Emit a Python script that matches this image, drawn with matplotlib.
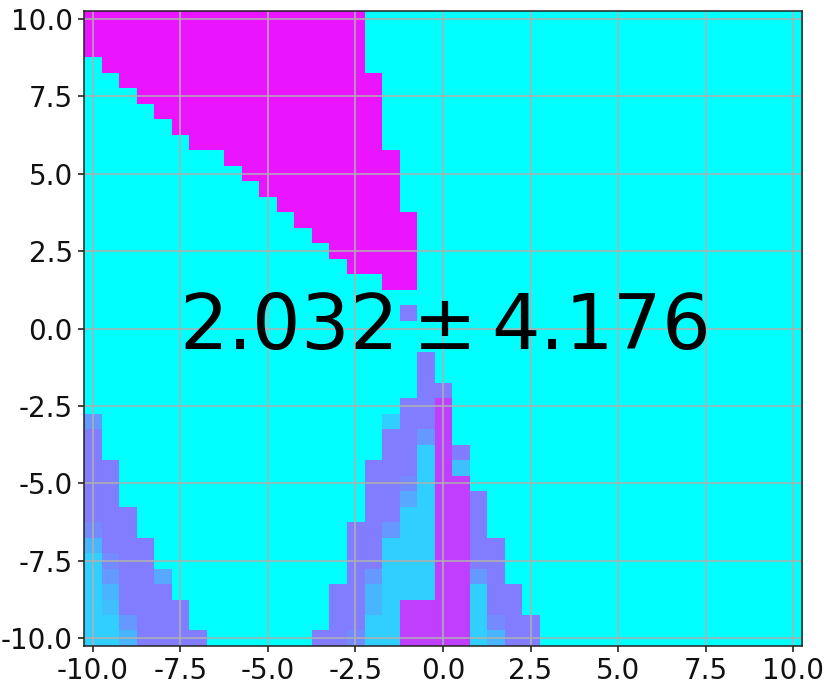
import numpy as np
import matplotlib
matplotlib.use("Agg")
import matplotlib.pyplot as plt

plt.rcParams['axes.unicode_minus'] = False

# Cell levels (colormap fraction) keyed by symbol
levels = {'.': 0.0, 'a': 0.19, 'b': 0.25, 'c': 0.29, 'd': 0.34, 'e': 0.4,
          'f': 0.46, 'g': 0.51, 'h': 0.753, 'i': 0.918}

# Grid rows from y = 10 (top) to y = -10 (bottom); columns from x = -10 to x = 10
rows = [
    "iiiiiiiiiiiiiiii",
    "iiiiiiiiiiiiiiii",
    "iiiiiiiiiiiiiiii",
    ".iiiiiiiiiiiiiii",
    "..iiiiiiiiiiiiiii",
    "...iiiiiiiiiiiiii",
    "....iiiiiiiiiiiii",
    ".....iiiiiiiiiiii",
    "......iiiiiiiiiii",
    "........iiiiiiiiii",
    ".........iiiiiiiii",
    "..........iiiiiiii",
    "...........iiiiiii",
    "............iiiiiii",
    ".............iiiiii",
    "..............iiiii",
    "...............iiii",
    ".................ii",
    "",
    "..................g",
    "",
    "",
    "...................g",
    "...................g",
    "...................gg",
    "..................ggh",
    "e................aggh",
    "g................ggeh",
    "g................ggahg",
    "gg..............gggahb",
    "gg..............ggfahh",
    "gg..............ggdahhg",
    "ggg.............ggaahhg",
    "fgg............ggeaahhg",
    "cggg...........ggaaahhgg",
    "afgg...........ggaaahhgg",
    "aeggd..........geaaahheg",
    "acggg.........ggcaaahhagg",
    "abgggg........ggcahhhhagg",
    "aaeggg........ggaahhhhafgg",
    "aacgggg......ggfaahhhhacgg",
]
x_ticks = [-10.0, -7.5, -5.0, -2.5, 0.0, 2.5, 5.0, 7.5, 10.0]
y_ticks = [-10.0, -7.5, -5.0, -2.5, 0.0, 2.5, 5.0, 7.5, 10.0]
mean_value = "2.032"
std_value = "4.176"

grid = np.array([[levels[c] for c in r.ljust(41, '.')] for r in rows])

fig = plt.figure(figsize=(8.3, 6.9), dpi=100)
ax = fig.add_axes([84 / 830, 1 - 646 / 690, (802 - 84) / 830, (646 - 11) / 690])
ax.imshow(grid, cmap='cool', vmin=0, vmax=1, origin='upper', aspect='auto',
          extent=[-10.25, 10.25, -10.25, 10.25], interpolation='nearest')
ax.set_xticks(x_ticks)
ax.set_yticks(y_ticks)
ax.set_xticklabels([f"{v:.1f}" for v in x_ticks])
ax.set_yticklabels([f"{v:.1f}" for v in y_ticks])
ax.tick_params(labelsize=20, length=4.5, width=1.1, pad=3.5, colors='#111111')
for s in ax.spines.values():
    s.set_linewidth(1.1)
    s.set_color('#222222')
ax.grid(True, color='#b0b0b0', linewidth=1.1)
ax.text(0, 0, rf"${mean_value} \pm {std_value}$", ha='center', va='center', fontsize=55)
fig.savefig("out.png", dpi=100)
